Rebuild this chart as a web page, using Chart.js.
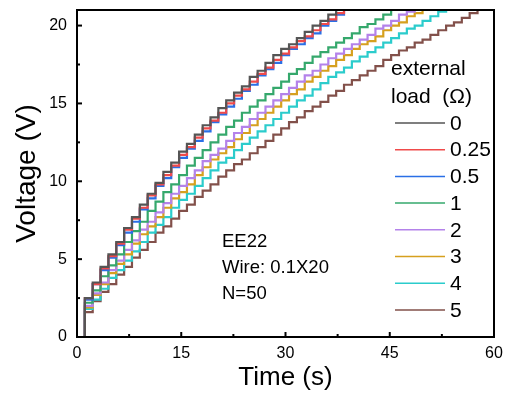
<!DOCTYPE html>
<html>
<head>
<meta charset="utf-8">
<script src="https://cdn.jsdelivr.net/npm/chart.js@4/dist/chart.umd.min.js"></script>
<style>
  html, body { margin: 0; padding: 0; background: #fff; }
  #wrap { width: 507px; height: 394px; }
</style>
</head>
<body>
<div id="wrap"><canvas id="chart"></canvas></div>
<script>
// step instants (s) shared by every trace
const stepTimes = [0, 1.13, 2.26, 3.39, 4.52, 5.65, 6.78, 7.91, 9.04, 10.17, 11.3, 12.43, 13.56,
  14.69, 15.82, 16.95, 18.08, 19.21, 20.34, 21.47, 22.6, 23.73, 24.86, 25.99, 27.12, 28.25, 29.38,
  30.51, 31.64, 32.77, 33.9, 35.03, 36.16, 37.29, 38.42, 39.55, 40.68, 41.81, 42.94, 44.07, 45.2,
  46.33, 47.46, 48.59, 49.72, 50.85, 51.98, 53.11, 54.24, 55.37, 56.5, 57.63, 58.76]

// voltage level after each step (V), one list per external load
const load0 = [0, 2.5, 3.5, 4.5, 5.3, 6.1, 7.0, 7.7, 8.5, 9.2, 9.9, 10.6, 11.2, 11.9, 12.4, 13.0, 13.6, 14.1, 14.7, 15.2, 15.7, 16.1, 16.7, 17.1, 17.6, 18.1, 18.5, 18.8, 19.2, 19.6, 20.0, 20.3, 20.7, 21.0, 21.3, 21.6]
const load025 = [0, 2.5, 3.4, 4.4, 5.2, 6.0, 6.9, 7.6, 8.3, 9.1, 9.8, 10.4, 11.0, 11.7, 12.2, 12.8, 13.4, 13.9, 14.4, 15.0, 15.5, 15.9, 16.4, 16.9, 17.3, 17.8, 18.2, 18.6, 19.0, 19.3, 19.7, 20.1, 20.4, 20.8, 21.1, 21.4]
const load05 = [0, 2.4, 3.4, 4.3, 5.1, 5.9, 6.7, 7.4, 8.2, 8.9, 9.7, 10.2, 10.9, 11.5, 12.1, 12.6, 13.2, 13.8, 14.3, 14.8, 15.3, 15.8, 16.2, 16.8, 17.2, 17.6, 18.1, 18.5, 18.8, 19.2, 19.5, 20.0, 20.3, 20.7, 21.0, 21.2, 21.5]
const load1 = [0, 2.2, 3.0, 3.9, 4.6, 5.3, 6.1, 6.8, 7.4, 8.1, 8.7, 9.3, 9.8, 10.4, 11.0, 11.5, 12.0, 12.5, 13.0, 13.5, 13.9, 14.4, 14.8, 15.2, 15.6, 16.0, 16.4, 16.9, 17.2, 17.6, 18.0, 18.3, 18.6, 18.9, 19.2, 19.5, 19.9, 20.1, 20.4, 20.7, 21.0, 21.2, 21.4]
const load2 = [0, 2.0, 2.8, 3.5, 4.3, 4.9, 5.6, 6.2, 6.9, 7.4, 8.0, 8.6, 9.2, 9.7, 10.2, 10.7, 11.3, 11.7, 12.1, 12.6, 13.1, 13.5, 14.0, 14.4, 14.8, 15.2, 15.6, 16.0, 16.4, 16.8, 17.1, 17.5, 17.9, 18.2, 18.5, 18.8, 19.1, 19.4, 19.8, 20.0, 20.3, 20.7, 20.9, 21.1, 21.4]
const load3 = [0, 1.9, 2.7, 3.4, 4.1, 4.7, 5.3, 6.0, 6.6, 7.1, 7.7, 8.3, 8.9, 9.3, 9.8, 10.4, 10.9, 11.4, 11.8, 12.2, 12.7, 13.1, 13.6, 14.0, 14.4, 14.8, 15.2, 15.6, 15.9, 16.4, 16.7, 17.1, 17.4, 17.8, 18.1, 18.5, 18.8, 19.0, 19.3, 19.7, 20.0, 20.2, 20.6, 20.8, 21.1, 21.3, 21.5]
const load4 = [0, 1.8, 2.4, 3.1, 3.8, 4.3, 4.9, 5.5, 6.1, 6.7, 7.2, 7.7, 8.3, 8.8, 9.2, 9.7, 10.2, 10.7, 11.2, 11.5, 12.0, 12.4, 12.8, 13.2, 13.6, 14.0, 14.4, 14.8, 15.2, 15.5, 15.9, 16.3, 16.7, 17.0, 17.3, 17.7, 18.0, 18.3, 18.6, 18.9, 19.2, 19.5, 19.8, 20.0, 20.3, 20.6, 20.9, 21.1, 21.3]
const load5 = [0, 1.6, 2.3, 2.9, 3.4, 4.0, 4.5, 5.1, 5.6, 6.1, 6.7, 7.1, 7.6, 8.1, 8.5, 9.0, 9.4, 9.8, 10.3, 10.7, 11.1, 11.4, 11.8, 12.2, 12.6, 13.0, 13.4, 13.8, 14.1, 14.5, 14.8, 15.1, 15.5, 15.8, 16.2, 16.5, 16.8, 17.1, 17.4, 17.8, 18.1, 18.4, 18.6, 18.9, 19.1, 19.4, 19.7, 20.0, 20.2, 20.5, 20.8, 21.0, 21.2]

const loadLabels = ['0', '0.25', '0.5', '1', '2', '3', '4', '5']
const loadLevels = [load0, load025, load05, load1, load2, load3, load4, load5]
const loadColors = ['#555555', '#f04a4a', '#2a6fe6', '#35a86c', '#b482ea', '#d6a01e', '#2bcccc', '#82504a']

const xTicks = [0, 15, 30, 45, 60]
const xMinor = [7.5, 22.5, 37.5, 52.5]
const yTicks = [0, 5, 10, 15, 20]
const yMinor = [2.5, 7.5, 12.5, 17.5]

const noteLines = ['EE22', 'Wire: 0.1X20', 'N=50']

const FONT = 'Arial, "Liberation Sans", sans-serif'
Chart.defaults.font.family = FONT
Chart.defaults.color = '#000'

// frame, inward ticks, the legend block and the note
const decorations = {
  id: 'decorations',
  afterDraw (chart) {
    const { ctx, chartArea: a, scales } = chart
    ctx.save()
    ctx.strokeStyle = '#000'
    ctx.lineWidth = 2
    ctx.strokeRect(a.left, a.top, a.right - a.left, a.bottom - a.top)

    const tick = (px, len, horizontal) => {
      ctx.beginPath()
      if (horizontal) { ctx.moveTo(a.left, px); ctx.lineTo(a.left + len, px) }
      else { ctx.moveTo(px, a.bottom); ctx.lineTo(px, a.bottom - len) }
      ctx.stroke()
    }
    xTicks.forEach(v => tick(scales.x.getPixelForValue(v), 5, false))
    xMinor.forEach(v => tick(scales.x.getPixelForValue(v), 3, false))
    yTicks.forEach(v => tick(scales.y.getPixelForValue(v), 5, true))
    yMinor.forEach(v => tick(scales.y.getPixelForValue(v), 3, true))

    ctx.fillStyle = '#000'
    ctx.textBaseline = 'middle'
    ctx.textAlign = 'left'
    ctx.font = '21px ' + FONT
    ctx.fillText('external', 391, 69)
    ctx.fillText('load  (\u03A9)', 391, 97)
    chart.data.datasets.forEach((ds, i) => {
      const y = 123 + i * 26.7
      ctx.strokeStyle = ds.borderColor
      ctx.lineWidth = 1.5
      ctx.beginPath()
      ctx.moveTo(395, y)
      ctx.lineTo(445, y)
      ctx.stroke()
      ctx.fillText(ds.label, 450, y + 1)
    })

    ctx.font = '18.5px ' + FONT
    noteLines.forEach((t, i) => ctx.fillText(t, 222, 242 + i * 26))
    ctx.restore()
  }
}

new Chart(document.getElementById('chart'), {
  type: 'line',
  data: {
    datasets: loadLevels.map((levels, i) => ({
      label: loadLabels[i],
      data: levels.map((v, k) => ({ x: stepTimes[k], y: v })),
      stepped: true,
      borderColor: loadColors[i],
      borderWidth: 2.2,
      pointRadius: 0,
      fill: false
    }))
  },
  options: {
    responsive: true,
    maintainAspectRatio: false,
    animation: false,
    layout: { padding: { top: 10, right: 13, left: 0, bottom: 0 } },
    plugins: { legend: { display: false }, tooltip: { enabled: false } },
    scales: {
      x: {
        type: 'linear',
        min: 0,
        max: 60,
        afterBuildTicks: s => { s.ticks = xTicks.map(v => ({ value: v })) },
        afterFit: s => { s.height = 57; s.paddingLeft = 0; s.paddingRight = 0 },
        grid: { display: false, drawTicks: false },
        border: { display: false },
        ticks: { font: { size: 16 }, padding: 7, maxRotation: 0 },
        title: { display: true, text: 'Time (s)', font: { size: 26 }, padding: { top: 0, bottom: 1 } }
      },
      y: {
        type: 'linear',
        min: 0,
        max: 21,
        afterBuildTicks: s => { s.ticks = yTicks.map(v => ({ value: v })) },
        afterFit: s => { s.width = 77; s.paddingTop = 0; s.paddingBottom = 0 },
        grid: { display: false, drawTicks: false },
        border: { display: false },
        ticks: { font: { size: 16 }, padding: 10 },
        title: { display: true, text: 'Voltage (V)', font: { size: 28 }, padding: { top: 10, bottom: 0 } }
      }
    }
  },
  plugins: [decorations]
})
</script>
</body>
</html>
